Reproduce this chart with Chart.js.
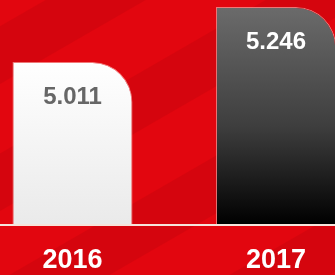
<!DOCTYPE html>
<html>
<head>
<meta charset="utf-8">
<script src="https://cdn.jsdelivr.net/npm/chart.js@4"></script>
<style>
  html, body { margin: 0; padding: 0; background: #e2060f; }
  #wrap { width: 335px; height: 275px; }
</style>
</head>
<body>
<div id="wrap"><canvas id="chartAnni"></canvas></div>
<script>
const years  = ['2016', '2017'];
const values = [5.011, 5.246];
const labelColors = ['#666666', '#ffffff'];

const yMin = 4.318;
const yMax = 5.276;

/* ── sfondo a strisce + linea base ───────────────────── */
const backdrop = {
  id: 'backdrop',
  beforeDraw(chart) {
    const ctx = chart.ctx;
    const w = chart.width, h = chart.height;
    ctx.save();
    ctx.fillStyle = '#e2060f';
    ctx.fillRect(0, 0, w, h);
    ctx.translate(w / 2, h / 2);
    ctx.rotate(-Math.PI / 6);
    ctx.fillStyle = 'rgba(150, 0, 10, 0.16)';
    for (let x = -400; x < 400; x += 110) {
      ctx.fillRect(-500, x, 1000, 50);
    }
    ctx.restore();
  },
  beforeDatasetsDraw(chart) {
    const ctx = chart.ctx;
    const y = chart.scales.y.getPixelForValue(yMin);
    ctx.save();
    ctx.fillStyle = '#f6e4dc';
    ctx.fillRect(0, y, chart.width, 2);
    ctx.restore();
  },
};

/* ── etichette valori dentro le barre ────────────────── */
const valueLabels = {
  id: 'valueLabels',
  afterDatasetsDraw(chart) {
    const ctx = chart.ctx;
    const meta = chart.getDatasetMeta(0);
    ctx.save();
    ctx.font = 'bold 24px "Liberation Sans", Arial, sans-serif';
    ctx.textAlign = 'center';
    ctx.textBaseline = 'middle';
    meta.data.forEach((bar, i) => {
      ctx.fillStyle = labelColors[i];
      ctx.fillText(values[i].toFixed(3), bar.x, bar.y + 35);
    });
    ctx.restore();
  },
};

const barFill = ctx => {
  const chart = ctx.chart;
  const area = chart.chartArea;
  if (!area) return '#ffffff';
  const top = chart.scales.y.getPixelForValue(ctx.raw);
  const g = chart.ctx.createLinearGradient(0, top, 0, area.bottom);
  if (ctx.dataIndex === 0) {
    g.addColorStop(0, '#ffffff');
    g.addColorStop(1, '#eaeaea');
  } else {
    g.addColorStop(0, '#6b6b6b');
    g.addColorStop(0.55, '#3e3e3e');
    g.addColorStop(1, '#000000');
  }
  return g;
};

new Chart(document.getElementById('chartAnni'), {
  type: 'bar',
  data: {
    labels: years,
    datasets: [{
      data: values,
      base: yMin,
      backgroundColor: barFill,
      borderColor: 'rgba(255, 215, 205, 0.55)',
      borderWidth: 1,
      borderSkipped: 'bottom',
      borderRadius: { topLeft: 0, topRight: 40, bottomLeft: 0, bottomRight: 0 },
      categoryPercentage: 1,
      barPercentage: 0.59,
      clip: false,
    }],
  },
  options: {
    responsive: true,
    maintainAspectRatio: false,
    animation: false,
    layout: { padding: { left: 72.5, right: 59, top: 0, bottom: 0 } },
    plugins: {
      legend: { display: false },
      tooltip: { enabled: false },
    },
    scales: {
      x: {
        offset: false,
        afterFit: s => { s.height = 51; },
        grid: { display: false, drawTicks: false },
        border: { display: false },
        ticks: {
          color: '#ffffff',
          padding: 20,
          font: { family: '"Liberation Sans", Arial, sans-serif', size: 27, weight: 'bold' },
        },
      },
      y: {
        display: false,
        min: yMin,
        max: yMax,
      },
    },
  },
  plugins: [backdrop, valueLabels],
});
</script>
</body>
</html>
